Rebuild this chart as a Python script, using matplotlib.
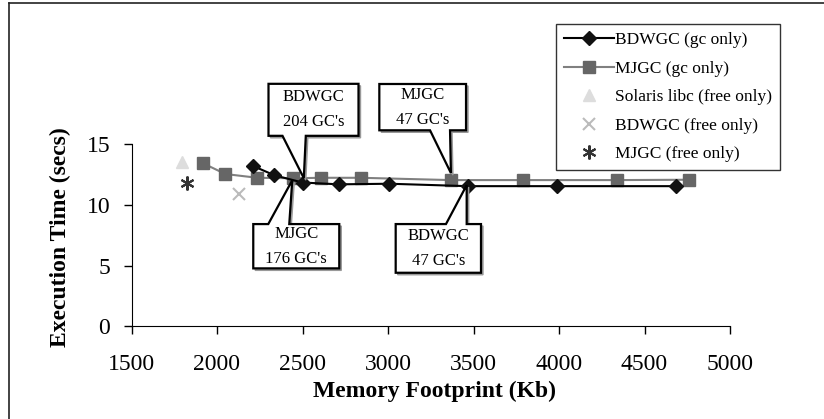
import matplotlib
matplotlib.use('Agg')
import matplotlib.pyplot as plt
from matplotlib.patches import Polygon
from matplotlib.lines import Line2D
from matplotlib.transforms import Affine2D, ScaledTranslation

plt.rcParams['font.family'] = ['Liberation Serif', 'DejaVu Serif']

# data
bdw_gc_x = [2213, 2335, 2500, 2713, 3008, 3466, 3990, 4684]
bdw_gc_y = [13.2, 12.45, 11.85, 11.7, 11.75, 11.55, 11.55, 11.55]
mj_gc_x = [1916, 2049, 2236, 2446, 2608, 2842, 3368, 3791, 4341, 4762]
mj_gc_y = [13.45, 12.55, 12.24, 12.2, 12.24, 12.24, 12.05, 12.05, 12.05, 12.08]
solaris_x = [1793]
solaris_y = [13.5]
bdw_free_x = [2130]
bdw_free_y = [10.9]
mj_free_x = [1826]
mj_free_y = [11.8]

x_ticks = [1500, 2000, 2500, 3000, 3500, 4000, 4500, 5000]
y_ticks = [0, 5, 10, 15]

fig = plt.figure(figsize=(8.24, 4.19), dpi=100)
ax = fig.add_axes([131.5 / 824, 92.7 / 419, 598.5 / 824, 182 / 419])

ax.plot(bdw_gc_x, bdw_gc_y, color='black', lw=1.5, marker='D', ms=7.5,
        mfc='#111111', mec='#111111', label='BDWGC (gc only)', zorder=4)
ax.plot(mj_gc_x, mj_gc_y, color='#808080', lw=1.5, marker='s', ms=9,
        mfc='#666666', mec='#666666', label='MJGC (gc only)', zorder=3)
ax.plot(solaris_x, solaris_y, ls='none', marker='^', ms=9, color='#dddddd',
        label='Solaris libc (free only)')
ax.plot(bdw_free_x, bdw_free_y, ls='none', marker='x', ms=9, mew=1.5,
        color='#bbbbbb', label='BDWGC (free only)')
ax.plot(mj_free_x, mj_free_y, ls='none', marker=(6, 2, 0), ms=10, mew=1.5,
        color='#333333', label='MJGC (free only)')

ax.set_xlim(1500, 5000)
ax.set_ylim(0, 15)
ax.set_xticks(x_ticks)
ax.set_yticks(y_ticks)
for s in ['top', 'right']:
    ax.spines[s].set_visible(False)
ax.tick_params(direction='out', length=8 * 0.72, width=1, labelsize=17)
ax.tick_params(axis='x', pad=14)
ax.tick_params(axis='y', pad=9.5)

ax.set_xlabel('Memory Footprint (Kb)', fontsize=17, fontweight='bold')
ax.xaxis.set_label_coords(0.507, -0.3)
ax.set_ylabel('Execution Time (secs)', fontsize=17, fontweight='bold')
ax.yaxis.set_label_coords(-0.101, 0.49)

leg = ax.legend(loc='upper left', bbox_to_anchor=(555.7 / 824, 1 - 24.3 / 419),
                bbox_transform=fig.transFigure, borderaxespad=0, fontsize=12.5,
                handlelength=2.9, handletextpad=0.05, labelspacing=0.71,
                borderpad=0.45, fancybox=False, framealpha=1)
leg.get_frame().set_edgecolor('#333333')
leg.get_frame().set_linewidth(1)


# callout boxes, offsets in pixels from the target point (y downwards)
def callout(x, y, text, box, base, tip, on_top):
    l, r, t, b = box
    if on_top:
        # wedge leaves the bottom edge
        pts = [(l, t), (r, t), (r, b), (base[1], b), tip, (base[0], b), (l, b)]
    else:
        pts = [(l, t), (base[0], t), tip, (base[1], t), (r, t), (r, b), (l, b)]
    tr = Affine2D().scale(1, -1) + ScaledTranslation(x, y, ax.transData)
    sh = Affine2D().translate(2, 2).scale(1, -1) + ScaledTranslation(x, y, ax.transData)
    ax.add_patch(Polygon(pts, closed=True, fc='#999999', ec='#999999', lw=1,
                         transform=sh, clip_on=False, zorder=5))
    ax.add_patch(Polygon(pts, closed=True, fc='white', ec='black', lw=1.6,
                         transform=tr, clip_on=False, zorder=6))
    ax.text((l + r) / 2, (t + b) / 2, text, transform=tr, ha='center', va='center',
            fontsize=12, linespacing=1.75, zorder=7, clip_on=False)


callout(bdw_gc_x[2], bdw_gc_y[2], "BDWGC\n204 GC's", (-34, 56, -98.7, -46.7),
        (-20, 3.3), (1.3, -4.4), True)
callout(mj_gc_x[6], mj_gc_y[6], "MJGC\n47 GC's", (-71.6, 15.1, -96.1, -49.8),
        (-20.9, -0.9), (0, -7), True)
callout(mj_gc_x[3], mj_gc_y[3], "MJGC\n176 GC's", (-40, 46, 45.8, 90.1),
        (-25, -4), (-1, 2), False)
callout(bdw_gc_x[5], bdw_gc_y[5], "BDWGC\n47 GC's", (-72, 13.3, 37.9, 86.6),
        (-21.7, -1), (-1, -1), False)

# outer frame (only top and left edges fall inside the picture)
fig.add_artist(Line2D([9 / 824, 1], [1 - 3 / 419, 1 - 3 / 419], color='#222222', lw=1.2))
fig.add_artist(Line2D([9 / 824, 9 / 824], [0, 1 - 3 / 419], color='#222222', lw=1.2))

fig.savefig('out.png', dpi=100)
